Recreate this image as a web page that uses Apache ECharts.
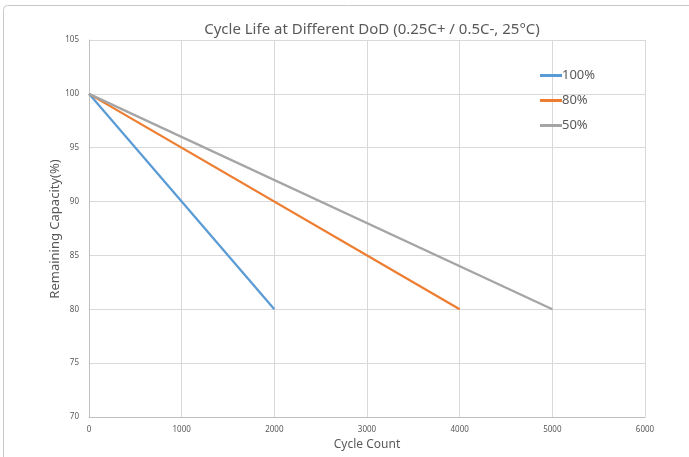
<!DOCTYPE html>
<html><head><meta charset="utf-8">
<script src="https://cdn.jsdelivr.net/npm/echarts@6/dist/echarts.min.js"></script>
<style>html,body{margin:0;padding:0;background:#fff}#c{width:689px;height:457px}</style>
</head><body><div id="c"></div>
<script>
const seriesNames = ['100%', '80%', '50%'];
const cycles100 = [0, 2000];
const capacity100 = [100, 80];
const cycles80 = [0, 4000];
const capacity80 = [100, 80];
const cycles50 = [0, 5000];
const capacity50 = [100, 80];
const colors = ['#5B9BD5', '#ED7D31', '#A5A5A5'];
const yAxisTitle = 'Remaining Capacity(%)';

const pairs = (xs, ys) => xs.map((x, i) => [x, ys[i]]);
const datasets = [pairs(cycles100, capacity100), pairs(cycles80, capacity80), pairs(cycles50, capacity50)];
const font = 'Noto Sans';
const chart = echarts.init(document.getElementById('c'));
chart.setOption({
  animation: false,
  color: colors,
  graphic: [
    {type: 'rect', shape: {x: 3.5, y: 5.5, width: 700, height: 470, r: 4}, style: {fill: 'none', stroke: '#c8c8c8', lineWidth: 1}, silent: true},
    {type: 'text', x: 55, y: 229, rotation: Math.PI / 2, silent: true,
      style: {text: yAxisTitle, fontFamily: font, fontSize: 13, fill: '#595959', align: 'center', verticalAlign: 'middle'}}
  ],
  title: {text: 'Cycle Life at Different DoD (0.25C+ / 0.5C-, 25°C)', left: 367, top: 17, textAlign: 'center',
    textStyle: {fontFamily: font, fontSize: 15, fontWeight: 'normal', color: '#595959'}},
  legend: {orient: 'vertical', left: 535, top: 64, itemGap: 12, itemWidth: 22, itemHeight: 3,
    icon: 'rect', data: seriesNames,
    textStyle: {fontFamily: font, fontSize: 13, color: '#595959', padding: [0, 0, 0, -5]}},
  grid: {left: 89, right: 44, top: 40, bottom: 40},
  xAxis: {type: 'value', min: 0, max: 6000, interval: 1000,
    name: 'Cycle Count', nameLocation: 'middle', nameGap: 21,
    nameTextStyle: {fontFamily: font, fontSize: 12, color: '#595959'},
    axisLine: {show: true, lineStyle: {color: '#bfbfbf'}}, axisTick: {show: false},
    axisLabel: {fontFamily: font, fontSize: 8, color: '#595959', margin: 9, formatter: v => String(v)},
    splitLine: {show: true, lineStyle: {color: '#d9d9d9'}}},
  yAxis: {type: 'value', min: 70, max: 105, interval: 5,
    axisLine: {show: true, lineStyle: {color: '#bfbfbf'}}, axisTick: {show: false},
    axisLabel: {fontFamily: font, fontSize: 8, color: '#595959', margin: 10},
    splitLine: {show: true, lineStyle: {color: '#d9d9d9'}}},
  series: seriesNames.map((n, i) => ({name: n, type: 'line', data: datasets[i], showSymbol: false,
    lineStyle: {width: 2.25, color: colors[i]}}))
});
</script></body></html>
